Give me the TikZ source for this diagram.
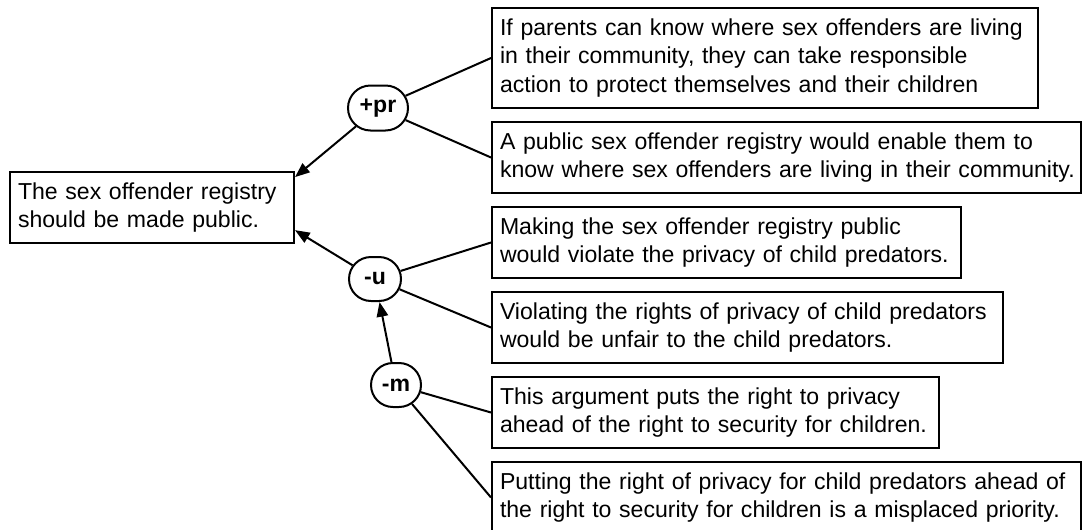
\documentclass[tikz,border=0pt]{standalone}
\usepackage{fontspec}
\setmainfont{Liberation Sans}
\usetikzlibrary{arrows.meta,shapes.misc}
\newcommand\oneline[1]{\mbox{#1}}
\begin{document}
\begin{tikzpicture}[x=0.75pt,y=-0.75pt,
  every node/.style={font=\fontsize{17.3pt}{21.4pt}\selectfont},
  claim/.style={draw, line width=1.5pt, rectangle, anchor=west, align=left,
    inner xsep=6pt, inner ysep=0pt, minimum height=53.25pt},
  op/.style={draw, line width=1.5pt, rounded rectangle, inner sep=0pt,
    font=\fontsize{17.3pt}{21.4pt}\selectfont\bfseries},
  link/.style={line width=1.5pt},
  arr/.style={line width=1.5pt, -{Triangle[length=11pt,width=8.5pt]}}]
\useasboundingbox (0,0) rectangle (1085,529);

\node[claim, minimum width=213pt, text width=201pt] (main) at (9,207.5)
  {\oneline{The sex offender registry}\\\oneline{should be made public.}};

\node[claim, minimum width=409.5pt, text width=397.5pt, minimum height=75pt] (b1) at (491,58)
  {\oneline{If parents can know where sex offenders are living}\\\oneline{in their community, they can take responsible}\\\oneline{action to protect themselves and their children}};
\node[claim, minimum width=441.75pt, text width=429.75pt] (b2) at (491,157.5)
  {\oneline{A public sex offender registry would enable them to}\\\oneline{know where sex offenders are living in their community.}};
\node[claim, minimum width=351.75pt, text width=339.75pt] (b3) at (491,242.5)
  {\oneline{Making the sex offender registry public}\\\oneline{would violate the privacy of child predators.}};
\node[claim, minimum width=383.25pt, text width=371.25pt] (b4) at (491,327.5)
  {\oneline{Violating the rights of privacy of child predators}\\\oneline{would be unfair to the child predators.}};
\node[claim, minimum width=335.25pt, text width=323.25pt] (b5) at (491,412.5)
  {\oneline{This argument puts the right to privacy}\\\oneline{ahead of the right to security for children.}};
\node[claim, minimum width=441.75pt, text width=429.75pt] (b6) at (491,497.5)
  {\oneline{Putting the right of privacy for child predators ahead of}\\\oneline{the right to security for children is a misplaced priority.}};

\node[op, minimum width=45pt, minimum height=33.75pt] (pr) at (378,108) {+pr};
\node[op, minimum width=39pt, minimum height=33pt] (u) at (375,279) {-u};
\node[op, minimum width=37.5pt, minimum height=33pt] (m) at (396,385) {-m};

\draw[arr] (pr) -- (main.12);
\draw[arr] (u) -- (main.-9);
\draw[arr] (m) -- (u);

\draw[link] (pr) -- (b1.west);
\draw[link] (pr) -- (b2.west);
\draw[link] (u) -- (b3.west);
\draw[link] (u) -- (b4.west);
\draw[link] (m) -- (b5.west);
\draw[link] (m) -- (b6.west);
\end{tikzpicture}
\end{document}
